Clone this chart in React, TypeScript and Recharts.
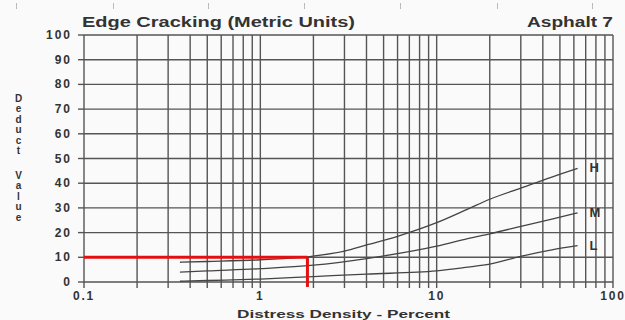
import React from 'react';
import { LineChart, Line, XAxis, YAxis, CartesianGrid, ReferenceLine } from 'recharts';

const xTicks = [
  0.1, 0.2, 0.3, 0.4, 0.5, 0.6, 0.7, 0.8, 0.9,
  1, 2, 3, 4, 5, 6, 7, 8, 9,
  10, 20, 30, 40, 50, 60, 70, 80, 90, 100,
];
const xLabels = [0.1, 1, 10, 100];
const yTicks = [0, 10, 20, 30, 40, 50, 60, 70, 80, 90, 100];

// distress density (%) and deduct value for each severity curve
const densityH = [0.35, 0.5, 1, 2, 3, 4, 6, 10, 15, 20, 30, 45, 63];
const deductH = [8, 8.3, 9, 10.5, 12.5, 15, 18.5, 24, 29.5, 33.5, 38, 42.5, 46];
const densityM = [0.35, 0.5, 1, 2, 4, 10, 15, 20, 30, 45, 63];
const deductM = [4, 4.5, 5.4, 6.8, 9.5, 14.5, 17.6, 19.5, 22.5, 25.5, 28];
const densityL = [0.35, 0.5, 1, 2, 4, 10, 15, 20, 30, 45, 63];
const deductL = [0.3, 0.6, 1.2, 2.2, 3.2, 4.5, 6, 7.2, 10.4, 13, 14.7];

// red reading: density 1.85 -> deduct 10
const readDensity = [0.1, 1.85];
const readDeduct = [10, -2];

const toPoints = (xs: number[], ys: number[]) => xs.map((x, i) => ({ x, y: ys[i] }));

const curves = [
  { name: 'H', data: toPoints(densityH, deductH) },
  { name: 'M', data: toPoints(densityM, deductM) },
  { name: 'L', data: toPoints(densityL, deductL) },
];

const FONT = 'Liberation Sans, Arial, sans-serif';

const XTick = ({ x, y, payload }: any) => {
  if (!xLabels.includes(payload.value)) return null;
  return (
    <text x={x} y={y + 10} textAnchor="middle" fontFamily={FONT} fontWeight="bold" fontSize={12} letterSpacing={1.8} fill="#333">
      {payload.value}
    </text>
  );
};

const YTick = ({ x, y, payload }: any) => (
  <text x={x} y={y + 4} textAnchor="end" fontFamily={FONT} fontWeight="bold" fontSize={12} letterSpacing={2} fill="#333">
    {payload.value}
  </text>
);

const EndLabel = (name: string, count: number) => (props: any) => {
  if (props.index !== count - 1) return null;
  return (
    <text key={name} x={props.x + 12} y={props.y + 4} fontFamily={FONT} fontWeight="bold" fontSize={13} fill="#333">
      {name}
    </text>
  );
};

const vertWord = (top: number): React.CSSProperties => ({
  position: 'absolute',
  left: 12,
  top,
  writingMode: 'vertical-rl',
  textOrientation: 'upright',
  fontSize: 10,
  lineHeight: '12px',
  letterSpacing: -0.6,
  fontWeight: 'bold',
  color: '#333',
});

export default function App() {
  return (
    <div style={{ position: 'absolute', left: 0, top: 0, width: 625, height: 320, background: '#fafafa', fontFamily: FONT }}>
      {[16, 113, 208, 304, 400, 497, 592].map((l) => (
        <div key={l} style={{ position: 'absolute', left: l, top: 3, width: 1, height: 6, background: '#bbb' }} />
      ))}
      <div style={vertWord(93)}>Deduct</div>
      <div style={vertWord(170)}>Value</div>
      <div style={{ position: 'absolute', left: 0, top: 0 }}>
        <LineChart width={625} height={320} margin={{ top: 35, right: 12, bottom: 0, left: 0 }}>
          <CartesianGrid stroke="#555" strokeWidth={1.4} />
          <XAxis
            type="number"
            dataKey="x"
            scale="log"
            domain={[0.1, 100]}
            ticks={xTicks}
            interval={0}
            height={38}
            axisLine={false}
            tickLine={{ stroke: '#555', strokeWidth: 1.4 }}
            tickSize={6}
            tick={<XTick />}
          />
          <YAxis
            type="number"
            domain={[0, 100]}
            ticks={yTicks}
            interval={0}
            width={84}
            axisLine={false}
            tickLine={{ stroke: '#555', strokeWidth: 1.4 }}
            tickSize={6}
            tickMargin={6}
            tick={<YTick />}
          />
          {curves.map((c) => (
            <Line
              key={c.name}
              data={c.data}
              dataKey="y"
              type="monotone"
              stroke="#444"
              strokeWidth={1.3}
              dot={false}
              isAnimationActive={false}
              label={EndLabel(c.name, c.data.length)}
            />
          ))}
          <ReferenceLine
            segment={[{ x: readDensity[0], y: readDeduct[0] }, { x: readDensity[1], y: readDeduct[0] }]}
            stroke="#e41010"
            strokeWidth={3}
            ifOverflow="visible"
          />
          <ReferenceLine
            segment={[{ x: readDensity[1], y: readDeduct[0] }, { x: readDensity[1], y: readDeduct[1] }]}
            stroke="#e41010"
            strokeWidth={3}
            ifOverflow="visible"
          />
        </LineChart>
      </div>
      <svg style={{ position: 'absolute', left: 0, top: 0, pointerEvents: 'none' }} width={625} height={320}>
        <text x={82} y={27} fontFamily={FONT} fontWeight="bold" fontSize={14} fill="#333" textLength={273} lengthAdjust="spacingAndGlyphs">
          Edge Cracking (Metric Units)
        </text>
        <text x={527} y={27} fontFamily={FONT} fontWeight="bold" fontSize={14} fill="#333" textLength={86} lengthAdjust="spacingAndGlyphs">
          Asphalt 7
        </text>
        <text x={237} y={318} fontFamily={FONT} fontWeight="bold" fontSize={11} fill="#333" textLength={213} lengthAdjust="spacingAndGlyphs">
          Distress Density - Percent
        </text>
      </svg>
    </div>
  );
}
